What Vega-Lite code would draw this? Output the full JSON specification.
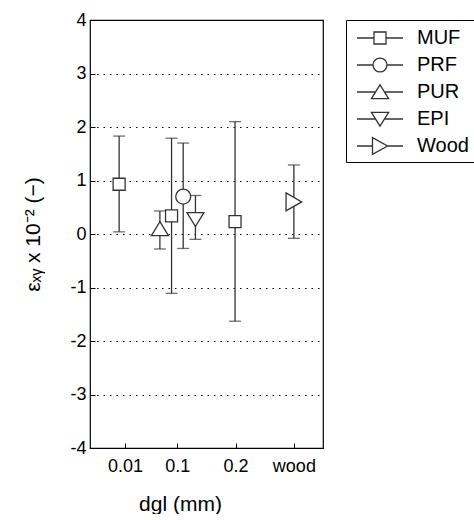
{
  "$schema": "https://vega.github.io/schema/vega-lite/v6.json",
  "width": 233,
  "height": 428,
  "padding": {"left": 22, "top": 11, "right": 0, "bottom": 0},
  "background": "white",
  "config": {
    "font": "Liberation Sans",
    "view": {"stroke": "black", "strokeWidth": 1.2},
    "axis": {
      "labelFont": "Liberation Sans",
      "titleFont": "Liberation Sans",
      "labelColor": "black",
      "titleColor": "black",
      "domainColor": "black",
      "tickColor": "black",
      "titleFontWeight": "normal"
    }
  },
  "data": {
    "values": [
      {"adhesive": "MUF", "pos": 0.50, "mean": 0.93, "lo": 0.04, "hi": 1.83},
      {"adhesive": "PUR", "pos": 1.20, "mean": 0.10, "lo": -0.28, "hi": 0.43},
      {"adhesive": "MUF", "pos": 1.40, "mean": 0.34, "lo": -1.11, "hi": 1.79},
      {"adhesive": "PRF", "pos": 1.60, "mean": 0.70, "lo": -0.27, "hi": 1.70},
      {"adhesive": "EPI", "pos": 1.81, "mean": 0.27, "lo": -0.10, "hi": 0.72},
      {"adhesive": "MUF", "pos": 2.49, "mean": 0.23, "lo": -1.63, "hi": 2.10},
      {"adhesive": "Wood", "pos": 3.50, "mean": 0.60, "lo": -0.08, "hi": 1.29}
    ]
  },
  "resolve": {"scale": {"shape": "independent"}, "legend": {"shape": "independent"}},
  "layer": [
    {
      "mark": {"type": "rule", "color": "#333333", "strokeWidth": 1.3},
      "encoding": {
        "x": {
          "field": "pos", "type": "quantitative",
          "scale": {"domain": [0, 4], "nice": false, "zero": false},
          "axis": {
            "values": [0.6, 1.5, 2.5, 3.5],
            "labelExpr": "datum.value < 1 ? '0.01' : datum.value < 2 ? '0.1' : datum.value < 3 ? '0.2' : 'wood'",
            "labelFontSize": 18,
            "tickSize": -5,
            "labelPadding": 14,
            "grid": false,
            "domain": false,
            "title": "dgl (mm)",
            "titleFontSize": 21,
            "titlePadding": 18,
            "titleX": 90
          }
        },
        "y": {
          "field": "lo", "type": "quantitative",
          "scale": {"domain": [-4, 4], "nice": false},
          "axis": {
            "values": [-4, -3, -2, -1, 0, 1, 2, 3, 4],
            "labelExpr": "toString(datum.value)",
            "grid": true,
            "gridDash": [1.5, 5],
            "gridColor": "black",
            "gridWidth": 1.2,
            "gridOpacity": 1,
            "tickSize": -5,
            "labelPadding": 9,
            "labelFontSize": 18,
            "domain": false,
            "title": "εₓᵧ  x 10⁻² (−)",
            "titleFontSize": 21,
            "titlePadding": 26
          }
        },
        "y2": {"field": "hi"}
      }
    },
    {
      "mark": {"type": "tick", "orient": "horizontal", "size": 12, "thickness": 1.3, "color": "#333333"},
      "encoding": {
        "x": {"field": "pos", "type": "quantitative"},
        "y": {"field": "lo", "type": "quantitative"}
      }
    },
    {
      "mark": {"type": "tick", "orient": "horizontal", "size": 12, "thickness": 1.3, "color": "#333333"},
      "encoding": {
        "x": {"field": "pos", "type": "quantitative"},
        "y": {"field": "hi", "type": "quantitative"}
      }
    },
    {
      "mark": {"type": "point", "filled": true, "color": "white", "strokeWidth": 0, "opacity": 1, "size": 289},
      "encoding": {
        "x": {"field": "pos", "type": "quantitative"},
        "y": {"field": "mean", "type": "quantitative"},
        "shape": {
          "field": "adhesive", "type": "nominal", "legend": null,
          "scale": {
            "domain": ["MUF", "PRF", "PUR", "EPI", "Wood"],
            "range": [
              "M-0.706,-0.706H0.706V0.706H-0.706Z",
              "M0.88,0A0.88,0.88,0,1,1,-0.88,0A0.88,0.88,0,1,1,0.88,0",
              "M0,-0.82L1,0.82L-1,0.82Z",
              "M0,0.82L1,-0.82L-1,-0.82Z",
              "M-0.92,-1.06L0.92,0L-0.92,1.06Z"
            ]
          }
        }
      }
    },
    {
      "mark": {"type": "point", "filled": false, "color": "#333333", "strokeWidth": 1.3, "opacity": 1, "size": 289},
      "encoding": {
        "x": {"field": "pos", "type": "quantitative"},
        "y": {"field": "mean", "type": "quantitative"},
        "shape": {
          "field": "adhesive", "type": "nominal", "legend": null,
          "scale": {
            "domain": ["MUF", "PRF", "PUR", "EPI", "Wood"],
            "range": [
              "M-0.706,-0.706H0.706V0.706H-0.706Z",
              "M0.88,0A0.88,0.88,0,1,1,-0.88,0A0.88,0.88,0,1,1,0.88,0",
              "M0,-0.82L1,0.82L-1,0.82Z",
              "M0,0.82L1,-0.82L-1,-0.82Z",
              "M-0.92,-1.06L0.92,0L-0.92,1.06Z"
            ]
          }
        }
      }
    },
    {
      "mark": {"type": "point", "filled": false, "color": "#333333", "strokeWidth": 1.3, "opacity": 0, "size": 289},
      "encoding": {
        "x": {"field": "pos", "type": "quantitative"},
        "y": {"field": "mean", "type": "quantitative"},
        "shape": {
          "field": "adhesive", "type": "nominal",
          "scale": {
            "domain": ["MUF", "PRF", "PUR", "EPI", "Wood"],
            "range": [
              "M-0.583,0H0.833M1.833,0H3.25M0.833,-0.5H1.833V0.5H0.833Z",
              "M-0.583,0H0.753M1.913,0H3.25M1.913,0A0.58,0.58,0,1,1,0.753,0A0.58,0.58,0,1,1,1.913,0",
              "M-0.583,0H0.96M1.70,0H3.25M1.333,-0.6L2.05,0.55L0.62,0.55Z",
              "M-0.583,0H0.96M1.70,0H3.25M1.333,0.6L2.05,-0.55L0.62,-0.55Z",
              "M-0.583,0H0.708M1.958,0H3.25M0.708,-0.7L1.958,0L0.708,0.7Z"
            ]
          },
          "legend": {
            "title": null,
            "orient": "right",
            "offset": 23,
            "padding": 5,
            "strokeColor": "black",
            "labelFontSize": 20,
            "labelFont": "Liberation Sans",
            "labelColor": "black",
            "symbolSize": 576,
            "labelOffset": 40,
            "rowPadding": 4,
            "symbolStrokeWidth": 1.3,
            "symbolStrokeColor": "#333333",
            "symbolOpacity": 1
          }
        }
      }
    }
  ]
}
